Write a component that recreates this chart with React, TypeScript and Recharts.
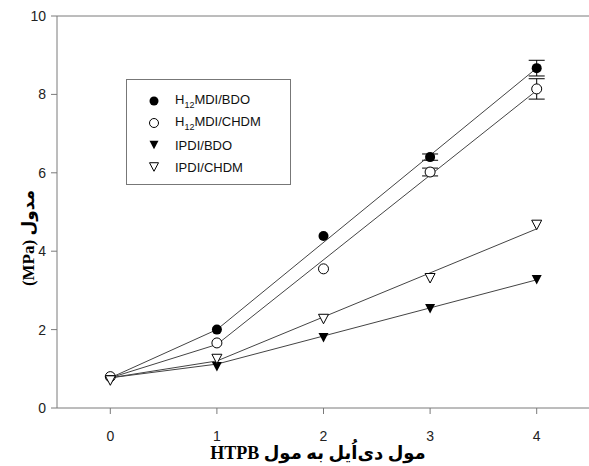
import React from "react";
import {
  ComposedChart,
  Scatter,
  XAxis,
  YAxis,
  ErrorBar,
  ReferenceLine,
} from "recharts";

// measured points (x = mol ratio)
const xVals = [0, 1, 2, 3, 4];
const h12Bdo = [0.79, 2.0, 4.39, 6.4, 8.67];
const h12BdoErr = [0, 0, 0, 0.08, 0.2];
const h12Chdm = [0.8, 1.66, 3.55, 6.02, 8.14];
const h12ChdmErr = [0, 0, 0, 0.1, 0.26];
const ipdiBdo = [0.72, 1.05, 1.79, 2.53, 3.27];
const ipdiChdm = [0.7, 1.25, 2.27, 3.31, 4.67];

// fitted lines at x = 0, 1, 4
const fitX = [0, 1, 4];
const h12BdoFit = [0.77, 2.0, 8.67];
const h12ChdmFit = [0.77, 1.62, 8.1];
const ipdiBdoFit = [0.77, 1.12, 3.27];
const ipdiChdmFit = [0.77, 1.2, 4.57];

const xTicks = [0, 1, 2, 3, 4];
const yTicks = [0, 2, 4, 6, 8, 10];

const legendItems = [
  { kind: "dot", pre: "H", sub: "12", post: "MDI/BDO" },
  { kind: "circle", pre: "H", sub: "12", post: "MDI/CHDM" },
  { kind: "tri", pre: "IPDI/BDO", sub: "", post: "" },
  { kind: "otri", pre: "IPDI/CHDM", sub: "", post: "" },
];

const pts = (ys: number[], errs?: number[]) =>
  xVals.map((x, i) => ({ x, y: ys[i], err: errs ? errs[i] : 0 }));
const fit = (ys: number[]) => fitX.map((x, i) => ({ x, y: ys[i] }));

const Marker = ({ kind, cx, cy, s = 5 }: any) => {
  if (kind === "dot") return <circle cx={cx} cy={cy} r={s} fill="#000" />;
  if (kind === "circle")
    return <circle cx={cx} cy={cy} r={s} fill="#fff" stroke="#000" strokeWidth={1} />;
  const h = s * 0.95;
  const d = `M${cx - s},${cy - h} L${cx + s},${cy - h} L${cx},${cy + h} Z`;
  if (kind === "tri") return <path d={d} fill="#000" />;
  return <path d={d} fill="#fff" stroke="#000" strokeWidth={1} />;
};

const axisStroke = "#7a7a7a";
const tickStyle = { fontSize: 14, fill: "#222", fontFamily: "Liberation Sans, Arial" };
const labelFont = "Liberation Serif, DejaVu Serif, DejaVu Sans";

export default function App() {
  return (
    <div style={{ position: "absolute", left: 0, top: 0, width: 589, height: 466, overflow: "hidden", background: "#fff" }}>
      <ComposedChart
        width={600}
        height={466}
        margin={{ top: 16, right: 10, left: 0, bottom: 18 }}
      >
        <XAxis
          type="number"
          dataKey="x"
          domain={[-0.5, 4.5]}
          ticks={xTicks}
          tickSize={6}
          tickMargin={17}
          tick={tickStyle}
          stroke={axisStroke}
          height={40}
          allowDataOverflow
        />
        <YAxis
          type="number"
          dataKey="y"
          domain={[0, 10]}
          ticks={yTicks}
          tickSize={6}
          tickMargin={5}
          tick={tickStyle}
          stroke={axisStroke}
          width={57}
          allowDataOverflow
        />
        <ReferenceLine y={10} stroke={axisStroke} />
        <ReferenceLine x={4.5} stroke={axisStroke} />

        <Scatter data={fit(h12BdoFit)} dataKey="y" line={{ stroke: "#444", strokeWidth: 1 }} shape={() => <g />} isAnimationActive={false} />
        <Scatter data={fit(h12ChdmFit)} dataKey="y" line={{ stroke: "#444", strokeWidth: 1 }} shape={() => <g />} isAnimationActive={false} />
        <Scatter data={fit(ipdiBdoFit)} dataKey="y" line={{ stroke: "#444", strokeWidth: 1 }} shape={() => <g />} isAnimationActive={false} />
        <Scatter data={fit(ipdiChdmFit)} dataKey="y" line={{ stroke: "#444", strokeWidth: 1 }} shape={() => <g />} isAnimationActive={false} />

        <Scatter data={pts(h12Bdo, h12BdoErr)} dataKey="y" shape={(p: any) => <Marker kind="dot" cx={p.cx} cy={p.cy} />} isAnimationActive={false}>
          <ErrorBar dataKey="err" direction="y" width={8} stroke="#000" strokeWidth={1} />
        </Scatter>
        <Scatter data={pts(h12Chdm, h12ChdmErr)} dataKey="y" shape={(p: any) => <Marker kind="circle" cx={p.cx} cy={p.cy} />} isAnimationActive={false}>
          <ErrorBar dataKey="err" direction="y" width={8} stroke="#000" strokeWidth={1} />
        </Scatter>
        <Scatter data={pts(ipdiBdo)} dataKey="y" shape={(p: any) => <Marker kind="tri" cx={p.cx} cy={p.cy} />} isAnimationActive={false} />
        <Scatter data={pts(ipdiChdm)} dataKey="y" shape={(p: any) => <Marker kind="otri" cx={p.cx} cy={p.cy} />} isAnimationActive={false} />

        <text x={318} y={459} textAnchor="middle" fontFamily={labelFont} fontWeight="bold" fontSize={18} fill="#000">
          HTPB  مول دی‌اُیل به مول
        </text>
        <text
          x={0}
          y={0}
          transform="translate(34,238) rotate(-90)"
          textAnchor="middle"
          fontFamily={labelFont}
          fontWeight="bold"
          fontSize={17}
          fill="#000"
        >
          (MPa)  مدول
        </text>
      </ComposedChart>

      <div
        style={{
          position: "absolute",
          left: 126,
          top: 79,
          width: 165,
          height: 106,
          border: "1px solid #777",
          boxSizing: "border-box",
          fontFamily: "Liberation Sans, Arial",
          fontSize: 13,
          color: "#111",
          paddingTop: 10,
        }}
      >
        {legendItems.map((it) => (
          <div key={it.kind} style={{ display: "flex", alignItems: "center", height: 22 }}>
            <svg width={48} height={16}>
              <Marker kind={it.kind} cx={27} cy={8} s={4.5} />
            </svg>
            <span>
              {it.pre}
              {it.sub && <sub style={{ fontSize: 9 }}>{it.sub}</sub>}
              {it.post}
            </span>
          </div>
        ))}
      </div>
    </div>
  );
}
